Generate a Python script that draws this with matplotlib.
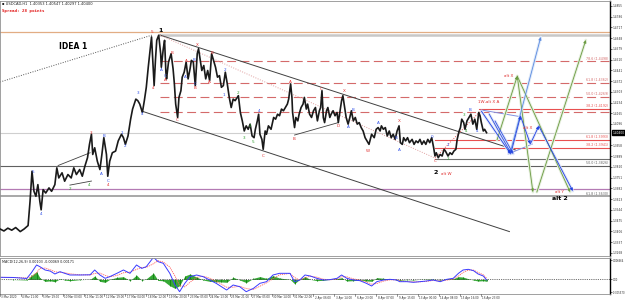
import matplotlib
matplotlib.use('Agg')
import matplotlib.pyplot as plt

# ---------------- data ----------------
price_bars = [0, 6, 12, 18, 24, 31, 37, 43, 46, 49, 52, 55, 58, 61, 63, 66, 70, 75, 79, 84,
              87, 90, 95, 99, 104, 109, 113, 117, 122, 126, 130, 134, 137, 140, 142, 145, 149, 153, 156, 159,
              163, 165, 168, 172, 177, 181, 186, 189, 192, 196, 200, 203, 208, 211, 214, 218, 221, 224, 227, 230,
              232, 234, 236, 238, 240, 243, 246, 247, 250, 252, 254, 255, 258, 262, 265, 267, 269, 272, 274, 277,
              279, 282, 285, 288, 291, 293, 296, 299, 302, 304, 307, 309, 312, 315, 318, 321, 324, 327, 330, 333,
              336, 339, 342, 345, 348, 351, 354, 357, 360, 365, 368, 371, 374, 377, 380, 383, 386, 389, 391, 394,
              396, 398, 401, 403, 406, 408, 411, 415, 419, 422, 425, 428, 431, 434, 437, 440, 442, 445, 447, 448,
              451, 453, 456, 458, 461, 464, 466, 469, 471, 474, 477, 480, 483, 486, 489, 491, 493, 495, 497, 500,
              502, 505, 507, 510, 513, 516, 518, 521, 523, 525, 528, 530, 533, 535, 538, 541, 544, 547, 550, 553,
              556, 559, 562, 565, 567, 569, 573, 576, 579, 582, 584, 587, 590, 593, 596, 599, 602, 605, 608, 611,
              613, 616, 618, 621, 624, 627, 631, 634, 637, 640, 643, 646, 649, 652, 655, 658, 661, 664, 666, 668,
              671, 674, 677, 680, 682, 686, 689, 692, 695, 698, 700, 703, 705, 707, 710, 712, 715, 718, 721, 724,
              727, 730, 733, 735, 737, 740, 742, 745]
price_vals = [1.3421, 1.3408, 1.3426, 1.3413, 1.3430, 1.3404, 1.3421, 1.3443, 1.3598, 1.3792, 1.3663, 1.3631, 1.3706, 1.3598, 1.3544, 1.3674, 1.3652, 1.3685, 1.3663, 1.3706,
              1.3814, 1.3749, 1.3782, 1.3728, 1.3771, 1.3749, 1.3814, 1.3771, 1.3803, 1.3760, 1.3825, 1.3879, 1.3965, 1.4030, 1.3900, 1.3943, 1.3857, 1.3803, 1.3900, 1.4008,
              1.3900, 1.3760, 1.3857, 1.3911, 1.3922, 1.3987, 1.4030, 1.4008, 1.3965, 1.4019, 1.4127, 1.4192, 1.4256, 1.4246, 1.4224, 1.4170, 1.4246, 1.4332, 1.4461, 1.4580,
              1.4656, 1.4505, 1.4343, 1.4505, 1.4634, 1.4667, 1.4548, 1.4461, 1.4580, 1.4634, 1.4429, 1.4386, 1.4494, 1.4548, 1.4451, 1.4354, 1.4224, 1.4138, 1.4267, 1.4310,
              1.4397, 1.4429, 1.4494, 1.4386, 1.4451, 1.4505, 1.4494, 1.4343, 1.4548, 1.4580, 1.4494, 1.4440, 1.4472, 1.4386, 1.4440, 1.4375, 1.4548, 1.4505, 1.4461, 1.4397,
              1.4407, 1.4332, 1.4343, 1.4429, 1.4354, 1.4267, 1.4202, 1.4256, 1.4246, 1.4278, 1.4170, 1.4116, 1.4051, 1.4084, 1.4062, 1.4095, 1.4019, 1.4008, 1.4062, 1.4116,
              1.4159, 1.4030, 1.3997, 1.3933, 1.4051, 1.4030, 1.4084, 1.4062, 1.4138, 1.4127, 1.4159, 1.4149, 1.4192, 1.4181, 1.4202, 1.4224, 1.4256, 1.4354, 1.4267, 1.4170,
              1.4073, 1.4138, 1.4116, 1.4159, 1.4202, 1.4224, 1.4267, 1.4192, 1.4224, 1.4159, 1.4138, 1.4181, 1.4202, 1.4116, 1.4181, 1.4202, 1.4310, 1.4138, 1.4105, 1.4181,
              1.4202, 1.4138, 1.4159, 1.4181, 1.4149, 1.4170, 1.4105, 1.4192, 1.4246, 1.4278, 1.4192, 1.4138, 1.4095, 1.4127, 1.4181, 1.4116, 1.4138, 1.4095, 1.4105, 1.4073,
              1.4051, 1.4008, 1.3987, 1.3965, 1.3997, 1.4030, 1.4008, 1.4062, 1.4073, 1.4051, 1.4084, 1.4062, 1.4073, 1.4019, 1.4051, 1.4008, 1.4030, 1.3997, 1.4051, 1.4084,
              1.3976, 1.3965, 1.4008, 1.3987, 1.4008, 1.3976, 1.3997, 1.3965, 1.3987, 1.3976, 1.3997, 1.3965, 1.3987, 1.3965, 1.3997, 1.3976, 1.4008, 1.3943, 1.3890, 1.3911,
              1.3879, 1.3900, 1.3890, 1.3933, 1.3922, 1.3890, 1.3911, 1.3900, 1.3922, 1.3933, 1.3997, 1.4051, 1.4073, 1.4127, 1.4105, 1.4062, 1.4116, 1.4138, 1.4159, 1.4095,
              1.4127, 1.4062, 1.4170, 1.4149, 1.4105, 1.4051, 1.4062, 1.4040]

macd_bars = [0, 20, 41, 48, 56, 61, 69, 77, 84, 92, 99, 107, 122, 138, 145, 153, 161, 168, 179, 189,
             199, 209, 217, 224, 235, 242, 250, 260, 268, 275, 283, 291, 301, 311, 321, 331, 339, 347, 357, 367,
             377, 388, 398, 408, 418, 428, 444, 451, 459, 467, 475, 485, 495, 505, 516, 523, 531, 541, 551, 561,
             569, 577, 587, 597, 607, 612, 623, 633, 643, 653, 663, 674, 684, 694, 702, 709, 717, 725, 732, 740, 745]
macd_main = [0.00065, 0.00060, 0.00030, 0.00200, 0.00432, 0.00382, 0.00283, 0.00250, 0.00164, 0.00233,
             0.00184, 0.00134, 0.00134, 0.00140, 0.00283, 0.00134, 0.00035, 0.00084, 0.00184, 0.00283,
             0.00184, 0.00432, 0.00330, 0.00382, 0.00661, 0.00531, 0.00482, 0.00184, -0.00164, -0.00363,
             -0.00114, 0.00084, 0.00134, 0.00084, -0.00015, -0.00114, -0.00214, -0.00313, -0.00164, -0.00214,
             -0.00363, -0.00264, -0.00114, -0.00065, 0.00134, 0.00184, 0.00184, -0.00065, -0.00015, 0.00134,
             0.00104, 0.00035, -0.00015, -0.00005, 0.00035, 0.00134, 0.00035, -0.00015, -0.00035, -0.00114,
             -0.00194, -0.00065, -0.00015, 0.00005, -0.00015, -0.00065, -0.00065, -0.00084, -0.00065, -0.00045,
             -0.00015, -0.00065, 0.00005, 0.00035, 0.00184, 0.00283, 0.00303, 0.00263, 0.00164, 0.00104, -0.00015]
macd_signal = [0.00065, 0.00062, 0.00045, 0.00080, 0.00200, 0.00330, 0.00340, 0.00290, 0.00230, 0.00210,
               0.00200, 0.00170, 0.00140, 0.00135, 0.00180, 0.00190, 0.00120, 0.00080, 0.00120, 0.00200,
               0.00220, 0.00300, 0.00360, 0.00360, 0.00470, 0.00560, 0.00520, 0.00370, 0.00100, -0.00180,
               -0.00220, -0.00080, 0.00060, 0.00100, 0.00040, -0.00050, -0.00140, -0.00230, -0.00230, -0.00200,
               -0.00270, -0.00300, -0.00200, -0.00100, 0.00020, 0.00140, 0.00180, 0.00060, -0.00020, 0.00050,
               0.00100, 0.00070, 0.00010, -0.00010, 0.00010, 0.00080, 0.00080, 0.00020, -0.00020, -0.00070,
               -0.00140, -0.00120, -0.00050, -0.00010, -0.00010, -0.00040, -0.00060, -0.00070, -0.00070, -0.00055,
               -0.00030, -0.00045, -0.00020, 0.00010, 0.00100, 0.00210, 0.00280, 0.00280, 0.00210, 0.00140, 0.00040]

time_labels = ["3 Mar 2020", "4 Mar 11:00", "5 Mar 19:00", "10 Mar 03:00", "11 Mar 11:00", "12 Mar 19:00",
               "17 Mar 04:00", "18 Mar 12:00", "19 Mar 20:00", "23 Mar 05:00", "24 Mar 13:00", "25 Mar 21:00",
               "27 Mar 05:00", "30 Mar 14:00", "31 Mar 22:00", "2 Apr 06:00", "3 Apr 14:00", "6 Apr 23:00",
               "8 Apr 07:00", "9 Apr 15:00", "13 Apr 00:00", "14 Apr 08:00", "15 Apr 16:00", "16 Apr 23:00"]
price_ticks = [1.4855, 1.4786, 1.4717, 1.4648, 1.4579, 1.4510, 1.4441, 1.4372, 1.4303, 1.4234, 1.4165,
               1.4096, 1.3958, 1.3889, 1.3820, 1.3751, 1.3682, 1.3613, 1.3544, 1.3475, 1.3406, 1.3337, 1.3268]
current_price = 1.4040

# horizontal levels: (price, start bar, color, style, width, label)
levels = [
    (1.4690, 0, '#e2ad84', '-', 0.9, None),
    (1.4670, 245, '#c8c8c8', '-', 1.8, None),
    (1.4498, 245, '#d46a6a', (0, (8, 4)), 0.8, "78.6 (1.4498)"),
    (1.4362, 245, '#d46a6a', (0, (8, 4)), 0.8, "61.8 (1.4362)"),
    (1.4269, 245, '#d46a6a', (0, (8, 4)), 0.8, "50.0 (1.4269)"),
    (1.4173, 245, '#d46a6a', (0, (8, 4)), 0.8, None),
    (1.4192, 733, '#e85050', '-', 0.8, "38.2 (1.4192)"),
    (1.4035, 0, '#cfcfcf', '-', 0.8, None),
    (1.3993, 666, '#e85050', '-', 0.8, "61.8 (1.3993)"),
    (1.3941, 666, '#e85050', '-', 0.8, "38.2 (1.3941)"),
    (1.3871, 666, '#707070', '-', 0.8, None),
    (1.3826, 0, '#606060', '-', 0.8, "50.0 (1.3826)"),
    (1.3681, 0, '#b47ab4', '-', 0.9, None),
    (1.3630, 0, '#a8a8a8', '-', 1.4, "61.8 (1.3630)"),
]

# trend lines: (bar0, price0, bar1, price1, color, style, width)
trend_lines = [
    (0, 1.4366, 233, 1.4668, '#555555', (0, (1, 1.5)), 0.7),
    (245, 1.4668, 789, 1.3929, '#404040', '-', 0.7),
    (217, 1.4179, 780, 1.3404, '#404040', '-', 0.7),
    (245, 1.4668, 666, 1.3877, '#e0a0a0', (0, (1, 1.5)), 0.7),
    (666, 1.3877, 737, 1.4186, '#e05050', (0, (1, 1.5)), 0.7),
    (89, 1.3829, 138, 1.3911, '#404040', '-', 0.6),
    (107, 1.3703, 140, 1.3729, '#404040', '-', 0.6),
    (451, 1.4025, 518, 1.4105, '#404040', '-', 0.6),
    (737, 1.4186, 801, 1.4140, '#8090e0', '-', 0.7),
    (778, 1.3903, 815, 1.3967, '#8090e0', '-', 0.7),
]

# projection paths: bars, prices
blue_path_bars = [737, 782, 797, 812, 825, 877]
blue_path_vals = [1.4179, 1.3903, 1.4147, 1.3967, 1.4083, 1.3665]
blue_up_bars = [781, 828]
blue_up_vals = [1.3909, 1.4655]
blue_par1_bars = [749, 782]
blue_par1_vals = [1.4160, 1.3910]
blue_par2_bars = [758, 786]
blue_par2_vals = [1.4115, 1.3903]
green_a_bars = [761, 792, 816]
green_a_vals = [1.3993, 1.4404, 1.3658]
green_b_bars = [822, 897]
green_b_vals = [1.3658, 1.4636]
green_c_bars = [792, 873]
green_c_vals = [1.4404, 1.3658]

red_labels = [("5", 232, 1.4690), ("B", 263, 1.4552), ("A", 253, 1.4382), ("C", 272, 1.4120),
              ("A", 285, 1.4500), ("B", 299, 1.4328), ("X", 302, 1.4602), ("B", 324, 1.4554),
              ("A", 320, 1.4366), ("C", 403, 1.3890), ("A", 445, 1.4366), ("B", 450, 1.4002),
              ("C", 492, 1.4319), ("D", 518, 1.4086), ("X", 527, 1.4310), ("W", 563, 1.3922),
              ("X", 611, 1.4116), ("C", 667, 1.3857), ("3", 140, 1.4040), ("4", 165, 1.3706),
              ("4", 235, 1.4328), ("alt W", 683, 1.3777), ("1W,alt X A", 748, 1.4235),
              ("alt X", 779, 1.4407), ("alt X", 808, 1.4073), ("alt Y", 857, 1.3659)]
blue_labels = [("A", 247, 1.4444), ("C", 253, 1.4407), ("A", 284, 1.4397), ("C", 299, 1.4354),
               ("B", 297, 1.4509), ("2", 345, 1.4444), ("1", 342, 1.4284), ("4", 396, 1.4177),
               ("A", 533, 1.4077), ("B", 540, 1.4187), ("A", 580, 1.4101), ("B", 606, 1.4008),
               ("A", 612, 1.3928), ("0", 661, 1.4013), ("1", 685, 1.3961), ("B", 720, 1.4185),
               ("4", 730, 1.4051), ("5", 50, 1.3788), ("4", 63, 1.3518), ("B", 159, 1.4019),
               ("A", 155, 1.3777), ("C", 165, 1.3728), ("1", 186, 1.4041), ("2", 192, 1.3954),
               ("3", 211, 1.4295), ("4", 218, 1.4159)]
green_labels = [("2", 365, 1.4295), ("3", 374, 1.4008), ("4", 383, 1.4084), ("5", 388, 1.3980),
                ("2", 686, 1.3868), ("3", 711, 1.4153), ("4", 714, 1.4051), ("2", 107, 1.3678),
                ("4", 137, 1.3706)]
black_labels = [("1", 245, 1.4700), ("2", 667, 1.3782), ("alt 2", 858, 1.3620)]

# ---------------- figure ----------------
W, H = 625, 301
fig = plt.figure(figsize=(W / 100, H / 100), dpi=100)
fig.patch.set_facecolor('white')
ax = fig.add_axes([0, (H - 256) / H, 610 / W, 255 / H])
ax2 = fig.add_axes([0, (H - 294) / H, 610 / W, 36 / H])

XMAX = 934
for a in (ax, ax2):
    a.set_xlim(0, XMAX)
    a.set_xticks([])
    for s in ('left', 'top', 'bottom'):
        a.spines[s].set_color('#909090')
        a.spines[s].set_linewidth(0.6)
    a.spines['right'].set_color('black')
    a.spines['right'].set_linewidth(1.0)
    a.yaxis.tick_right()
    a.tick_params(axis='y', labelsize=2.1, length=1.2, width=0.5, pad=1.0, colors='#303030')

ax.set_ylim(1.3247, 1.4887)
ax.set_yticks(price_ticks)
ax.set_yticklabels([f"{v:.4f}" for v in price_ticks])

# levels
for p, x0, c, ls, lw, lab in levels:
    ax.plot([x0, XMAX], [p, p], color=c, ls=ls, lw=lw, zorder=1)
    if lab:
        ax.text(XMAX - 3, p + 0.0004, lab, fontsize=2.3, color=c if c != '#a8a8a8' else '#606060',
                ha='right', va='bottom', zorder=5)

for b0, p0, b1, p1, c, ls, lw in trend_lines:
    ax.plot([b0, b1], [p0, p1], color=c, ls=ls, lw=lw, zorder=2)

# price
ax.plot(price_bars, price_vals, color='#1a1a1a', lw=1.2, zorder=3)


def arrow_path(bars, vals, color, pale):
    ax.plot(bars, vals, color=pale, lw=2.0, zorder=2, solid_capstyle='round')
    for i in range(len(bars) - 1):
        ax.annotate('', xy=(bars[i + 1], vals[i + 1]), xytext=(bars[i], vals[i]),
                    arrowprops=dict(arrowstyle='-|>', color=color, lw=0.6,
                                    mutation_scale=4, shrinkA=0, shrinkB=0), zorder=4)


arrow_path(green_a_bars, green_a_vals, '#6a9a40', '#e4eedc')
arrow_path(green_b_bars, green_b_vals, '#6a9a40', '#e4eedc')
arrow_path(green_c_bars, green_c_vals, '#6a9a40', '#e4eedc')
arrow_path(blue_up_bars, blue_up_vals, '#5a8ae0', '#dde8f8')
arrow_path(blue_par1_bars, blue_par1_vals, '#3050e0', '#dde4f8')
arrow_path(blue_par2_bars, blue_par2_vals, '#3050e0', '#dde4f8')
arrow_path(blue_path_bars, blue_path_vals, '#2040e0', '#dde4f8')

for lst, col, fs, fw in ((red_labels, '#e03030', 3.0, 'normal'), (blue_labels, '#3050e8', 3.0, 'normal'),
                         (green_labels, '#30a030', 3.0, 'normal'), (black_labels, 'black', 4.5, 'bold')):
    for t, b, p in lst:
        ax.text(b, p, t, color=col, fontsize=fs, fontweight=fw, ha='center', va='center', zorder=6)

ax.text(0.097, 0.82, "IDEA 1", transform=ax.transAxes, fontsize=5.5, fontweight='bold',
        ha='left', va='center')
fig.text(2 / W, 1 - 4 / H, "\u25aa USDCAD,H1  1.40353 1.40547 1.40297 1.40400", fontsize=2.6,
         ha='left', va='center', color='#202020')
fig.text(2 / W, 1 - 11 / H, "Spread: 28 points", fontsize=3.0, ha='left', va='center',
         color='#e01010', fontweight='bold', family='DejaVu Sans Mono')

# current price box
ax.text(1.004, (current_price - 1.3247) / (1.4887 - 1.3247), f"{current_price:.5f}",
        transform=ax.transAxes, fontsize=2.1, color='white', ha='left', va='center',
        bbox=dict(boxstyle='square,pad=0.2', fc='black', ec='black'), zorder=10, clip_on=False)

# MACD
hist = [m - s for m, s in zip(macd_main, macd_signal)]
ax2.set_ylim(-0.00432, 0.0064)
ax2.fill_between(macd_bars, 0, hist, color='#20a020', lw=0, alpha=0.9)
ax2.vlines(macd_bars, 0, hist, color='#108010', lw=0.6)
ax2.axhline(0, color='#404040', lw=0.6, ls=(0, (1, 1.2)))
ax2.plot(macd_bars, macd_signal, color='#ff6060', lw=0.6, ls=(0, (1.5, 1)))
ax2.plot(macd_bars, macd_main, color='#3a3aff', lw=0.7)
ax2.set_yticks([0.0058, 0.0, -0.0038])
ax2.set_yticklabels(["0.006664", "0.00", "-0.005570"])
ax2.tick_params(axis='y', labelsize=1.8, pad=0.6)
ax2.text(0.003, 0.9, "MACD(12,26,9) 0.00103 -0.00069 0.00171", transform=ax2.transAxes,
         fontsize=2.4, ha='left', va='center', color='#202020')

# time labels
for i, lab in enumerate(time_labels):
    b = i * 32
    xf = b / XMAX * 610 / W
    fig.text(xf + 1.5 / W, 1 - 297.5 / H, lab, fontsize=2.0, ha='left', va='center', color='#303030')
    fig.add_artist(plt.Line2D([xf, xf], [1 - 294 / H, 1 - 296 / H], color='#404040', lw=0.4))

fig.savefig('out.png', dpi=100, facecolor='white')
